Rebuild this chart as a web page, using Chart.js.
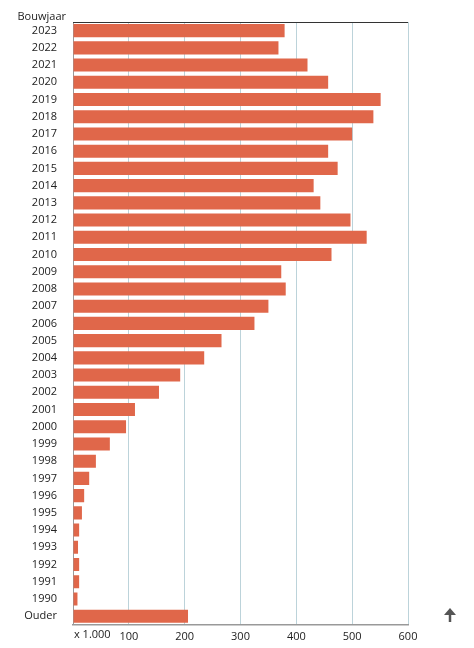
<!DOCTYPE html>
<html><head><meta charset="utf-8">
<script src="https://cdn.jsdelivr.net/npm/chart.js@4"></script>
<style>html,body{margin:0;padding:0;background:#fff}#w{width:474px;height:648px;position:relative}</style>
</head><body><div id="w"><canvas id="c"></canvas></div>
<script>
const categories = ["2023","2022","2021","2020","2019","2018","2017","2016","2015","2014","2013","2012","2011","2010","2009","2008","2007","2006","2005","2004","2003","2002","2001","2000","1999","1998","1997","1996","1995","1994","1993","1992","1991","1990","Ouder"];
const values = [379,368,420,457,551,538,500,457,474,431,443,497,526,463,373,381,350,325,266,235,192,154,111,95,66,41,29,20,16,11,9,11,11,8,206];
const xTicks = [0,100,200,300,400,500,600];
const yTitle = "Bouwjaar";
const unitLabel = "x 1.000";
const FONT = "'Open Sans', sans-serif";
const deco = {
  id:'deco',
  afterDraw(ch){
    const {ctx, chartArea:a} = ch;
    ctx.save();
    ctx.strokeStyle='#333'; ctx.lineWidth=1.2;
    ctx.beginPath(); ctx.moveTo(a.left,a.top+0.5); ctx.lineTo(a.right,a.top+0.5); ctx.stroke();
    ctx.fillStyle='#222'; ctx.font="11px "+FONT;
    ctx.textAlign='right'; ctx.textBaseline='bottom';
    ctx.fillText(yTitle, a.left-7, a.top);
    ctx.textAlign='left'; ctx.textBaseline='top';
    ctx.fillText(unitLabel, a.left+1, a.bottom+5);
    ctx.fillStyle='#555'; ctx.strokeStyle='#555'; ctx.lineWidth=2.5;
    ctx.beginPath(); ctx.moveTo(450,622); ctx.lineTo(450,612); ctx.stroke();
    ctx.beginPath(); ctx.moveTo(444,615); ctx.lineTo(450,608); ctx.lineTo(456,615); ctx.closePath(); ctx.fill();
    ctx.restore();
  }
};
new Chart(document.getElementById('c'), {
  type:'bar',
  data:{labels:categories, datasets:[{data:values, backgroundColor:'#e0674a', barPercentage:0.76, categoryPercentage:1}]},
  options:{
    indexAxis:'y', responsive:true, maintainAspectRatio:false, animation:false,
    layout:{padding:{top:22,right:66,left:0,bottom:0}},
    plugins:{legend:{display:false}, tooltip:{enabled:false}},
    scales:{
      x:{min:0,max:600,
        afterBuildTicks(s){s.ticks = xTicks.map(v=>({value:v}));},
        grid:{color:'#bcd3da', drawTicks:false, lineWidth:1},
        border:{display:true, color:'#999', width:1.5},
        ticks:{color:'#222', font:{size:11,family:FONT}, padding:5, maxRotation:0,
          callback:(v)=> v===0 ? '' : String(v)}},
      y:{
        afterFit(s){s.width=73;},
        grid:{display:false},
        border:{display:true,color:'#999'},
        ticks:{color:'#222', font:{size:11,family:FONT}, padding:8, autoSkip:false}}
    }
  },
  plugins:[deco]
});
</script></body></html>
